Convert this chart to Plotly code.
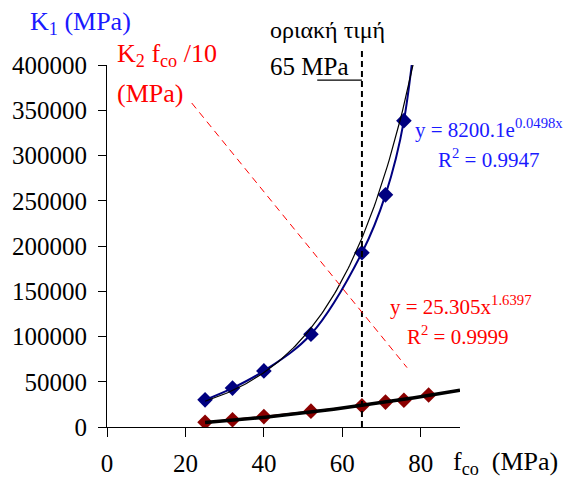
import numpy as np
import plotly.graph_objects as go

# Measured series: concrete strength f_co (MPa) against stiffness
fco_k1 = [25, 32, 40, 52, 65, 71, 75.7, 82]
k1 = [30000, 43000, 62000, 102500, 192500, 256500, 338500, 590000]

fco_k2 = [25, 32, 40, 52, 65, 71, 75.7, 82]
k2_fco_10 = [5300, 8000, 11500, 17500, 23500, 27500, 29500, 35300]

# Fitted trendlines (coefficients as printed on the chart)
EXP_A, EXP_B = 8200.1, 0.0498
POW_A, POW_B = 25.305, 1.6397
LIMIT = 65  # limiting value, MPa

x_exp = np.linspace(25, 82, 120)
y_exp = EXP_A * np.exp(EXP_B * x_exp)
x_pow = np.linspace(25, 90, 120)
y_pow = POW_A * x_pow ** POW_B

FONT = "Liberation Serif"
BLUE = "#1a1aff"
RED = "#ff0000"

fig = go.Figure()

fig.add_trace(go.Scatter(
    x=fco_k1, y=k1, mode="lines+markers",
    line=dict(color="#000080", width=2, shape="spline"),
    marker=dict(symbol="diamond", size=12, color="#000080"),
    showlegend=False,
))
fig.add_trace(go.Scatter(
    x=fco_k2, y=k2_fco_10, mode="lines+markers",
    line=dict(color="#8b0000", width=1.5),
    marker=dict(symbol="diamond", size=12, color="#8b0000"),
    showlegend=False,
))
fig.add_trace(go.Scatter(
    x=x_exp, y=y_exp, mode="lines",
    line=dict(color="black", width=1.2),
    showlegend=False,
))
fig.add_trace(go.Scatter(
    x=x_pow, y=y_pow, mode="lines",
    line=dict(color="black", width=3.5),
    showlegend=False,
))

# Limit marker at 65 MPa and its label leader
fig.add_shape(type="line", xref="x", yref="paper", x0=LIMIT, x1=LIMIT, y0=0, y1=1.04,
              line=dict(color="black", width=2, dash="6px,4px"))
fig.add_shape(type="line", xref="x", yref="paper", x0=53.6, x1=LIMIT, y0=0.958, y1=0.958,
              line=dict(color="black", width=1.3))
# Red pointer from the K2 label
fig.add_shape(type="line", xref="x", yref="y", x0=21.6, y0=358000, x1=76.5, y1=65600,
              line=dict(color=RED, width=1, dash="7px,5px"))

W, H = 572, 483
L, R, T, B = 107, 112, 65, 56
pw, ph = W - L - R, H - T - B


def px(xp, yp):
    return (xp - L) / pw, (H - B - yp) / ph


def label(text, xp, yp, color, size, anchor="left"):
    ax, ay = px(xp, yp)
    fig.add_annotation(text=text, x=ax, y=ay, xref="paper", yref="paper",
                       xanchor=anchor, yanchor="middle", showarrow=False,
                       font=dict(family=FONT, size=size, color=color))


label("K<sub>1</sub> (MPa)", 28, 23, BLUE, 26)
label("K<sub>2</sub> f<sub>co</sub> /10", 115, 55, RED, 26)
label("(MPa)", 115, 93, RED, 26)
label("οριακή τιμή", 268, 30, "black", 24)
label("65 MPa", 268, 66, "black", 25)
label("y = 8200.1e<sup>0.0498x</sup>", 413, 128, BLUE, 21)
label("R<sup>2</sup> = 0.9947", 436, 158, BLUE, 21)
label("y = 25.305x<sup>1.6397</sup>", 388, 305, RED, 21)
label("R<sup>2</sup> = 0.9999", 405, 336, RED, 21)
label("f<sub>co</sub>  (MPa)", 451, 463, "black", 26)

fig.update_layout(
    width=W, height=H,
    margin=dict(l=L, r=R, t=T, b=B, pad=0, autoexpand=False),
    paper_bgcolor="white", plot_bgcolor="white",
    font=dict(family=FONT, size=24, color="black"),
    xaxis=dict(range=[0, 90], tickvals=[0, 20, 40, 60, 80], showgrid=False, zeroline=False,
               showline=True, linecolor="black", linewidth=1.2, ticks="outside",
               ticklen=9, tickcolor="black", tickwidth=1.2, ticklabelstandoff=5,
               automargin=False,
               tickfont=dict(family=FONT, size=25, color="black")),
    yaxis=dict(range=[0, 400000], dtick=50000, showgrid=False, zeroline=False,
               showline=True, linecolor="black", linewidth=1.2, ticks="outside",
               ticklen=8, tickcolor="black", tickwidth=1.2, tickformat="d",
               ticklabelstandoff=6, automargin=False,
               tickfont=dict(family=FONT, size=25, color="black")),
)

fig.write_html("out.html")
